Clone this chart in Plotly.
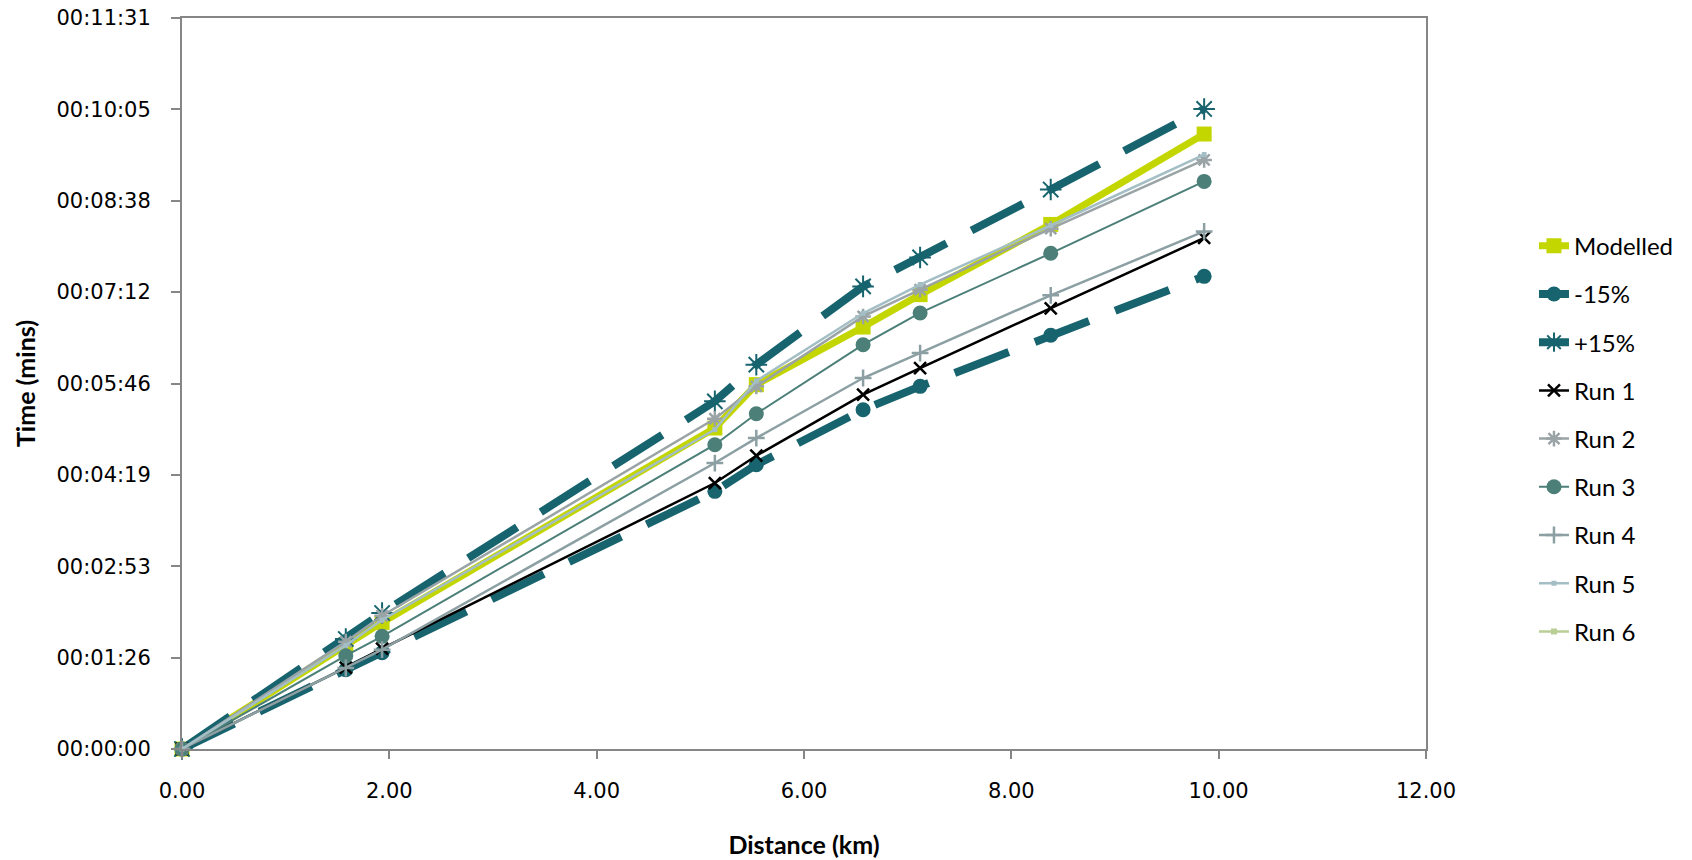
import plotly.graph_objects as go

# Distance (km) of each timing point
distance_km = [0, 1.58, 1.93, 5.14, 5.54, 6.57, 7.12, 8.38, 9.86]

# Elapsed time in seconds for each series
modelled = [0, 98.6, 119.7, 303.5, 344.5, 399, 429.6, 496, 581.5]
minus15 = [0, 75, 91, 243.6, 268.8, 320.8, 342.9, 391.2, 446.9]
plus15 = [0, 104, 128.6, 328.7, 363.4, 437.4, 464.8, 529, 605.2]
run1 = [0, 77, 95, 251.5, 277.3, 335, 360.2, 416.7, 483.2]
run2 = [0, 101.5, 126, 312.3, 342.9, 409, 434.3, 492, 557]
run3 = [0, 88.2, 106.5, 287.7, 317, 382.3, 412.3, 468.7, 536.7]
run4 = [0, 76.6, 93.9, 270.4, 294, 350.8, 374.4, 429, 489.4]
run5 = [0, 98, 122, 302, 348, 412, 439, 495, 562]
run6 = [None]

# Y tick labels (0.001 day steps = 86.4 s)
y_tick_labels = ["00:00:00", "00:01:26", "00:02:53", "00:04:19", "00:05:46",
                 "00:07:12", "00:08:38", "00:10:05", "00:11:31"]
y_tick_step_s = 86.4
x_tick_labels = ["0.00", "2.00", "4.00", "6.00", "8.00", "10.00", "12.00"]
x_tick_vals = [0, 2, 4, 6, 8, 10, 12]

TEAL = "#17646E"

series = [
    dict(name="Modelled", y=modelled, color="#C3D600", width=7, dash="solid",
         marker=dict(symbol="square", size=15, color="#C3D600")),
    dict(name="-15%", y=minus15, color=TEAL, width=8, dash="58px,28px",
         marker=dict(symbol="circle", size=15, color=TEAL)),
    dict(name="+15%", y=plus15, color=TEAL, width=8, dash="58px,28px",
         marker=dict(symbol="asterisk-open", size=18, color=TEAL,
                     line=dict(color=TEAL, width=2))),
    dict(name="Run 1", y=run1, color="#000000", width=2.5, dash="solid",
         marker=dict(symbol="x-thin-open", size=12, color="#000000",
                     line=dict(color="#000000", width=2.5))),
    dict(name="Run 2", y=run2, color="#9AA3A5", width=2.5, dash="solid",
         marker=dict(symbol="asterisk-open", size=13, color="#9AA3A5",
                     line=dict(color="#9AA3A5", width=2.5))),
    dict(name="Run 3", y=run3, color="#4B7F78", width=2, dash="solid",
         marker=dict(symbol="circle", size=15, color="#4B7F78")),
    dict(name="Run 4", y=run4, color="#8CA0A4", width=2.5, dash="solid",
         marker=dict(symbol="cross-thin-open", size=12, color="#8CA0A4",
                     line=dict(color="#8CA0A4", width=2.5))),
    dict(name="Run 5", y=run5, color="#A3BEC5", width=2.5, dash="solid",
         marker=dict(symbol="square", size=5, color="#A3BEC5")),
    dict(name="Run 6", y=run6, color="#BACF96", width=2.5, dash="solid",
         marker=dict(symbol="square", size=6, color="#BACF96")),
]

fig = go.Figure()
for s in series:
    xs = distance_km if len(s["y"]) == len(distance_km) else [None]
    fig.add_trace(go.Scatter(
        x=xs, y=s["y"], name=s["name"], legendgroup=s["name"],
        mode="lines+markers",
        line=dict(color=s["color"], width=s["width"], dash=s["dash"]),
        marker=s["marker"], cliponaxis=False,
    ))

AXCOL = "#868686"
fig.update_layout(
    width=1692, height=860,
    margin=dict(l=182, r=266, t=18, b=111, autoexpand=False),
    plot_bgcolor="white", paper_bgcolor="white",
    font=dict(family="DejaVu Sans", color="#000000"),
    legend=dict(x=1.0868, xanchor="left", y=0.7186, yanchor="top",
                font=dict(family="Lato", size=24, color="#000000"),
                tracegroupgap=14, traceorder="grouped",
                bgcolor="rgba(0,0,0,0)"),
    xaxis=dict(range=[0, 12], tickvals=x_tick_vals, ticktext=x_tick_labels,
               automargin=False,
               showgrid=False, zeroline=False, showline=True, linecolor=AXCOL,
               linewidth=2, mirror=True, ticks="outside", ticklen=8,
               tickcolor=AXCOL, tickwidth=2,
               tickfont=dict(family="DejaVu Sans", size=21),
               ticklabelstandoff=14,
               title=dict(text="<b>Distance (km)</b>",
                          font=dict(family="Lato", size=25), standoff=34)),
    yaxis=dict(range=[0, y_tick_step_s * (len(y_tick_labels) - 1)],
               tickvals=[i * y_tick_step_s for i in range(len(y_tick_labels))],
               ticktext=y_tick_labels, automargin=False,
               showgrid=False, zeroline=False, showline=True, linecolor=AXCOL,
               linewidth=2, mirror=True, ticks="outside", ticklen=9,
               tickcolor=AXCOL, tickwidth=2,
               tickfont=dict(family="DejaVu Sans", size=21),
               ticklabelstandoff=16,
               title=dict(text="<b>Time (mins)</b>",
                          font=dict(family="Lato", size=25), standoff=14)),
)

fig.write_html("out.html")
